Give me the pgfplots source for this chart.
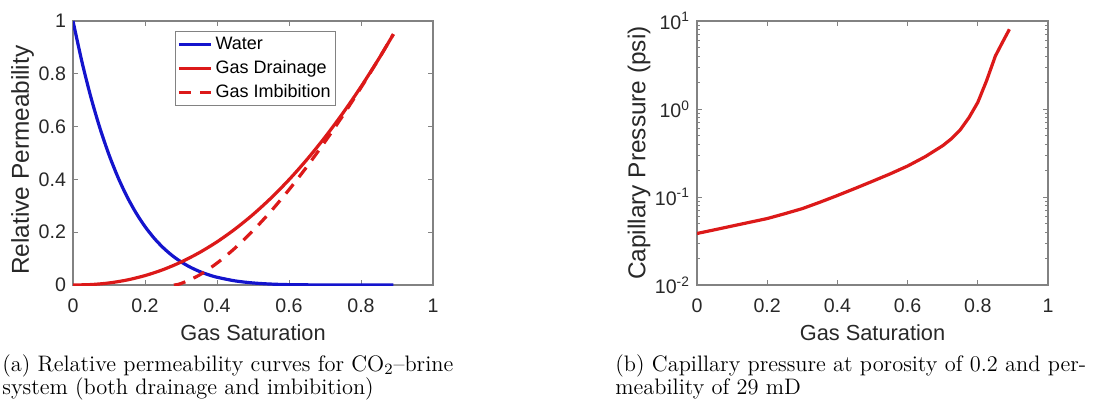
\documentclass[border=0pt]{standalone}
\usepackage{fontspec}
\setsansfont{Liberation Sans}
\usepackage{pgfplots}
\pgfplotsset{compat=1.18}
\definecolor{mblue}{RGB}{20,20,205}
\definecolor{mred}{RGB}{220,25,25}
\definecolor{axgray}{RGB}{130,130,130}
\definecolor{txtgray}{RGB}{40,40,40}
\pgfplotsset{
  mstyle/.style={
    scale only axis,
    font=\sffamily\fontsize{9.8}{11}\selectfont,
    /pgf/number format/assume math mode=true,
    axis line style={axgray, line width=0.6pt},
    every tick/.style={axgray, line width=0.5pt},
    major tick length=2.5pt,
    minor tick length=1.3pt,
    tick align=inside,
    ticklabel style={text=txtgray, font=\sffamily\fontsize{9.8}{11}\selectfont},
    xticklabel style={anchor=center, yshift=-10.5pt},
    xmin=0, xmax=1,
    xtick={0,0.2,0.4,0.6,0.8,1},
    xticklabels={0,0.2,0.4,0.6,0.8,1},
    xlabel={Gas Saturation},
    xlabel style={text=txtgray, font=\sffamily\fontsize{10.9}{12}\selectfont,
      at={(axis description cs:0.5,0)}, anchor=center, yshift=-24pt},
  }
}
\begin{document}
\begin{tikzpicture}
\path[use as bounding box] (0,0) rectangle (547.5pt,203.5pt);
\begin{axis}[mstyle,
  at={(36.5pt,61pt)}, anchor=south west,
  width=180pt, height=132pt,
  ymin=0, ymax=1,
  ytick={0,0.2,0.4,0.6,0.8,1},
  yticklabels={0,0.2,0.4,0.6,0.8,1},
  ylabel={Relative Permeability},
  ylabel style={text=txtgray, font=\sffamily\fontsize{12.2}{14}\selectfont,
    at={(axis description cs:-0.14,0.473)}, anchor=center},
  legend style={at={(0.283,0.962)}, anchor=north west, draw=axgray, line width=0.5pt,
    font=\sffamily\fontsize{9}{10}\selectfont, text=black,
    inner sep=1pt, row sep=0.6pt,
    nodes={inner sep=1.5pt, text height=6.5pt, text depth=1.8pt},
    cells={anchor=west}},
  legend image code/.code={\draw[#1] (0pt,0pt) -- (16pt,0pt);},
]
\addplot[mblue, line width=1.6pt, smooth] coordinates {
(0,1) (0.025,0.8445) (0.05,0.7097) (0.075,0.5933) (0.1,0.4933) (0.125,0.4077)
(0.15,0.3349) (0.175,0.2733) (0.2,0.2214) (0.225,0.1780) (0.25,0.1419)
(0.275,0.1122) (0.3,0.0878) (0.325,0.0680) (0.35,0.0521) (0.375,0.0394)
(0.4,0.0294) (0.45,0.0156) (0.5,0.0077) (0.55,0.0035) (0.6,0.0014)
(0.7,0.0001) (0.8,0) (0.89,0)};
\addlegendentry{Water}
\addplot[mred, line width=1.6pt, smooth] coordinates {
(0,0) (0.05,0.0017) (0.1,0.0077) (0.15,0.0189) (0.2,0.0356) (0.25,0.0581)
(0.3,0.0868) (0.35,0.1219) (0.4,0.1634) (0.45,0.2118) (0.5,0.2670)
(0.55,0.3293) (0.6,0.3988) (0.65,0.4756) (0.7,0.5599) (0.75,0.6517)
(0.8,0.7511) (0.85,0.8582) (0.89,0.95)};
\addlegendentry{Gas Drainage}
\addplot[mred, line width=1.6pt, smooth, dash pattern=on 6pt off 4.5pt] coordinates {
(0.28,0) (0.3,0.0056) (0.35,0.0369) (0.4,0.0829) (0.45,0.1398) (0.5,0.2058)
(0.55,0.2798) (0.6,0.3610) (0.65,0.4488) (0.7,0.5428) (0.75,0.6425)
(0.8,0.7477) (0.85,0.8581) (0.89,0.95)};
\addlegendentry{Gas Imbibition}
\end{axis}
\begin{axis}[mstyle,
  at={(348.5pt,61pt)}, anchor=south west,
  width=175.5pt, height=132pt,
  ymode=log, ymin=0.01, ymax=10,
  ytick={0.01,0.1,1,10},
  yticklabels={10\textsuperscript{-2},10\textsuperscript{-1},10\textsuperscript{0},10\textsuperscript{1}},
  ylabel={Capillary Pressure (psi)},
  ylabel style={text=txtgray, font=\sffamily\fontsize{12.2}{14}\selectfont,
    at={(axis description cs:-0.165,0.5)}, anchor=center},
]
\addplot[mred, line width=1.6pt] coordinates {
(0,0.0385) (0.05,0.0424) (0.1,0.0468) (0.15,0.0516) (0.2,0.0569) (0.25,0.0646)
(0.3,0.0738) (0.35,0.0872) (0.4,0.104) (0.45,0.125) (0.5,0.151) (0.55,0.183)
(0.6,0.225) (0.65,0.287) (0.7,0.383) (0.725,0.46) (0.75,0.58) (0.775,0.80)
(0.8,1.19) (0.825,2.1) (0.85,4.0) (0.87,5.7) (0.89,8.05)};
\end{axis}
\begin{scope}[every node/.style={anchor=base west, inner sep=0pt, font=\fontsize{11.2}{11.5}\selectfont}]
\node at (1pt,18pt) {(a) Relative permeability curves for CO\textsubscript{2}--brine};
\node at (1pt,6.5pt) {system (both drainage and imbibition)};
\node at (307.5pt,18pt) {(b) Capillary pressure at porosity of 0.2 and per-};
\node at (307.5pt,6.5pt) {meability of 29 mD};
\end{scope}
\end{tikzpicture}
\end{document}
